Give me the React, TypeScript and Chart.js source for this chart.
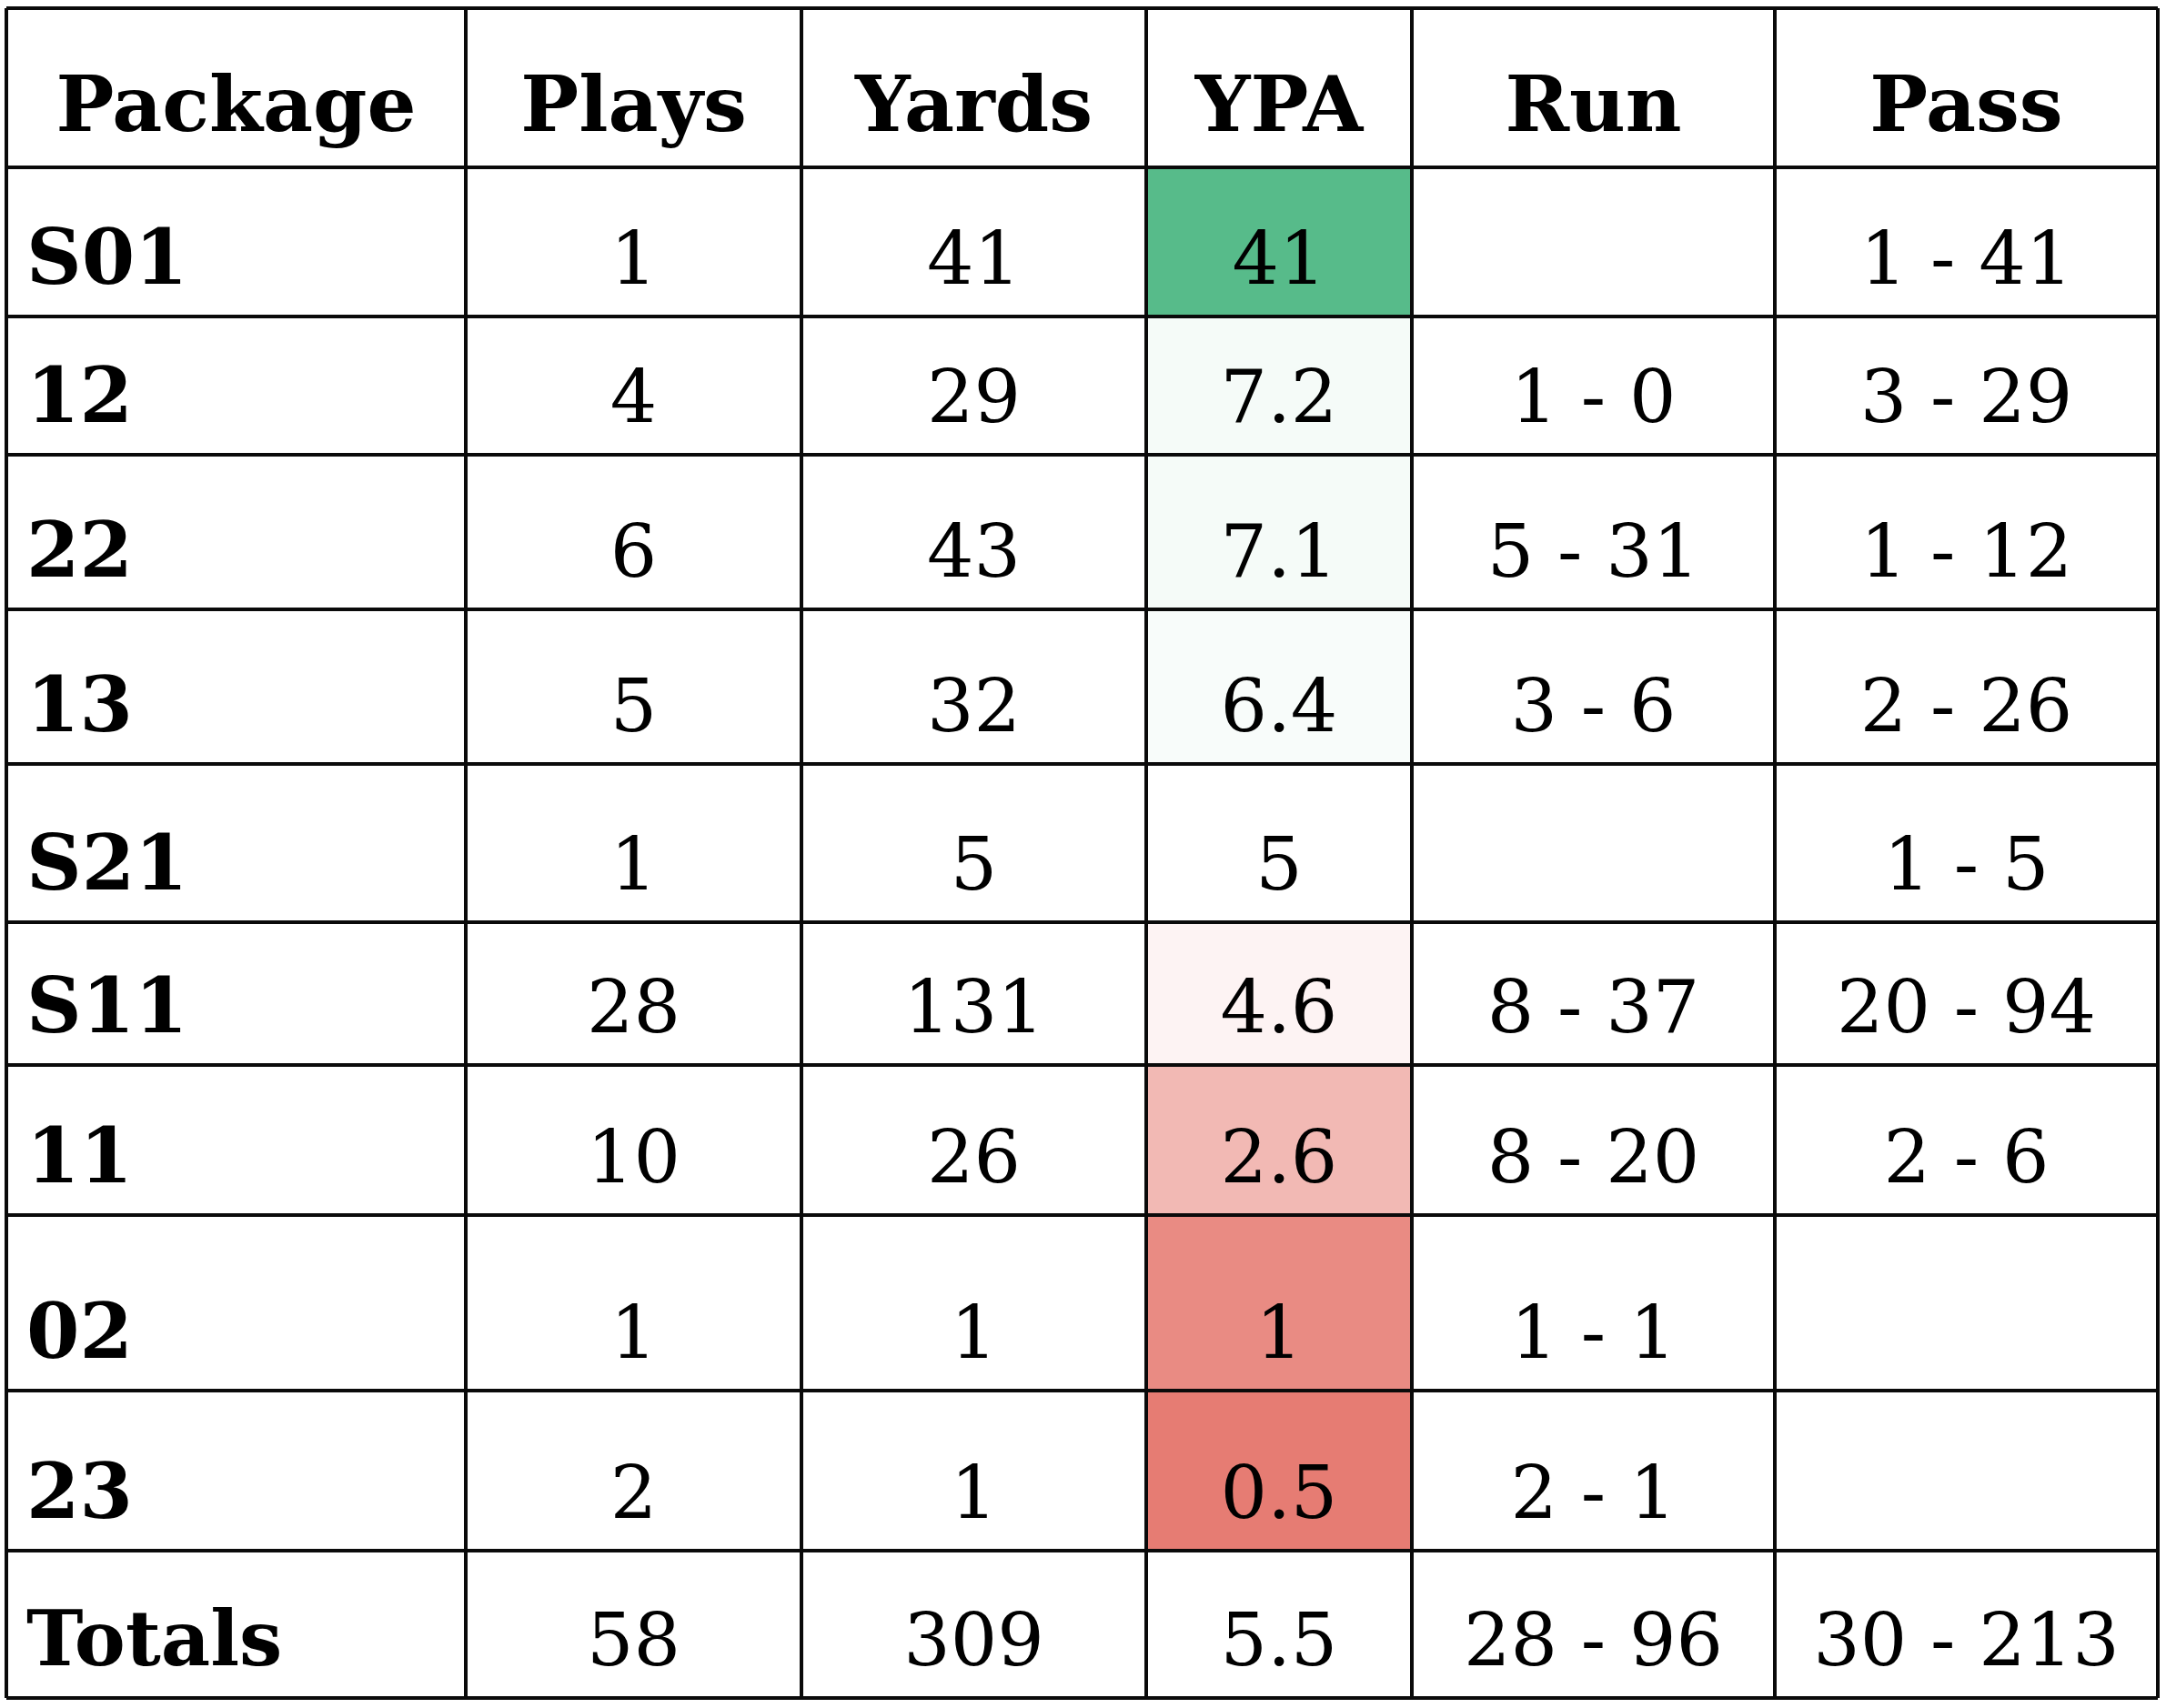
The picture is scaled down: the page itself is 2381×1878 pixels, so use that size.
import React, { useEffect, useRef } from "react";
import { Chart, registerables } from "chart.js";

Chart.register(...registerables);

// ---------- data ----------
const HEADERS = ["Package", "Plays", "Yards", "YPA", "Run", "Pass"];
const PACKAGES = ["S01", "12", "22", "13", "S21", "S11", "11", "02", "23"];
const PLAYS = [1, 4, 6, 5, 1, 28, 10, 1, 2];
const YARDS = [41, 29, 43, 32, 5, 131, 26, 1, 1];
const YPA = [41, 7.2, 7.1, 6.4, 5, 4.6, 2.6, 1, 0.5];
const RUN_ATT: (number | null)[] = [null, 1, 5, 3, null, 8, 8, 1, 2];
const RUN_YDS: (number | null)[] = [null, 0, 31, 6, null, 37, 20, 1, 1];
const PASS_ATT: (number | null)[] = [1, 3, 1, 2, 1, 20, 2, null, null];
const PASS_YDS: (number | null)[] = [41, 29, 12, 26, 5, 94, 6, null, null];
const TOTAL_LABEL = "Totals";
const TOTAL_PLAYS = 58;
const TOTAL_YARDS = 309;
const TOTAL_YPA = 5.5;
const TOTAL_RUN = [28, 96];
const TOTAL_PASS = [30, 213];

// ---------- layout & style ----------
const COL_WIDTHS = [505, 369, 379, 292, 399, 421];
const ROW_HEIGHTS = [175, 164, 152, 170, 170, 174, 157, 165, 193, 176, 162];
const LOW_COLOR = [230, 124, 115];
const MID_COLOR = [255, 255, 255];
const HIGH_COLOR = [87, 187, 138];
const FONT_FAMILY = '"DejaVu Serif", "Liberation Serif", serif';
const HEADER_SIZE = 85;
const LABEL_SIZE = 84;
const REG_SIZE = 81;
const LINE_COLOR = "#0a0a0a";

const cumulative = (arr: number[]) => {
  const out = [0];
  arr.forEach((v) => out.push(out[out.length - 1] + v));
  return out;
};
const X_EDGES = cumulative(COL_WIDTHS);
const Y_EDGES = cumulative(ROW_HEIGHTS);

const pair = (a: number | null, b: number | null) =>
  a === null || b === null ? "" : `${a} - ${b}`;

function median(values: number[]) {
  const s = [...values].sort((a, b) => a - b);
  const m = Math.floor(s.length / 2);
  return s.length % 2 ? s[m] : (s[m - 1] + s[m]) / 2;
}

function mix(c1: number[], c2: number[], t: number) {
  const c = c1.map((v, i) => Math.round(v + (c2[i] - v) * t));
  return `rgb(${c[0]},${c[1]},${c[2]})`;
}

function ypaColor(v: number) {
  const min = Math.min(...YPA);
  const max = Math.max(...YPA);
  const mid = median(YPA);
  if (v >= mid) return mix(MID_COLOR, HIGH_COLOR, (v - mid) / (max - mid));
  return mix(MID_COLOR, LOW_COLOR, (mid - v) / (mid - min));
}

type Row = { cells: string[]; header: boolean; fill: (string | null)[] };

function buildRows(): Row[] {
  const rows: Row[] = [];
  rows.push({ cells: HEADERS, header: true, fill: HEADERS.map(() => null) });
  PACKAGES.forEach((p, i) => {
    rows.push({
      cells: [
        p,
        String(PLAYS[i]),
        String(YARDS[i]),
        String(YPA[i]),
        pair(RUN_ATT[i], RUN_YDS[i]),
        pair(PASS_ATT[i], PASS_YDS[i]),
      ],
      header: false,
      fill: [null, null, null, ypaColor(YPA[i]), null, null],
    });
  });
  rows.push({
    cells: [
      TOTAL_LABEL,
      String(TOTAL_PLAYS),
      String(TOTAL_YARDS),
      String(TOTAL_YPA),
      pair(TOTAL_RUN[0], TOTAL_RUN[1]),
      pair(TOTAL_PASS[0], TOTAL_PASS[1]),
    ],
    header: false,
    fill: [null, null, null, null, null, null],
  });
  return rows;
}

const tablePlugin = {
  id: "tablePlugin",
  beforeDraw(chart: any) {
    const { ctx, scales } = chart;
    const xs = scales.x;
    const ys = scales.y;
    ctx.save();
    ctx.fillStyle = "#ffffff";
    ctx.fillRect(0, 0, chart.width, chart.height);
    const rows = buildRows();
    rows.forEach((row, r) => {
      row.fill.forEach((f, c) => {
        if (!f) return;
        const x0 = xs.getPixelForValue(X_EDGES[c]);
        const x1 = xs.getPixelForValue(X_EDGES[c + 1]);
        const y0 = ys.getPixelForValue(Y_EDGES[r]);
        const y1 = ys.getPixelForValue(Y_EDGES[r + 1]);
        ctx.fillStyle = f;
        ctx.fillRect(x0, y0, x1 - x0, y1 - y0);
      });
    });
    ctx.restore();
  },
  afterDraw(chart: any) {
    const { ctx, scales } = chart;
    const xs = scales.x;
    const ys = scales.y;
    const rows = buildRows();
    ctx.save();
    ctx.fillStyle = "#000000";
    ctx.textBaseline = "alphabetic";
    rows.forEach((row, r) => {
      const yBottom = ys.getPixelForValue(Y_EDGES[r + 1]);
      const baseline = yBottom - (row.header ? 40 : 36);
      row.cells.forEach((text, c) => {
        if (!text) return;
        const x0 = xs.getPixelForValue(X_EDGES[c]);
        const x1 = xs.getPixelForValue(X_EDGES[c + 1]);
        if (row.header) {
          ctx.font = `bold ${HEADER_SIZE}px ${FONT_FAMILY}`;
        } else if (c === 0) {
          ctx.font = `bold ${LABEL_SIZE}px ${FONT_FAMILY}`;
        } else {
          ctx.font = `${REG_SIZE}px ${FONT_FAMILY}`;
        }
        if (c === 0 && !row.header) {
          ctx.textAlign = "left";
          ctx.fillText(text, x0 + 22, baseline);
        } else {
          ctx.textAlign = "center";
          ctx.fillText(text, (x0 + x1) / 2, baseline);
        }
      });
    });
    ctx.restore();
  },
};

export default function App() {
  const canvasRef = useRef<HTMLCanvasElement | null>(null);

  useEffect(() => {
    document.body.style.margin = "0";
    const canvas = canvasRef.current;
    if (!canvas) return;
    const chart = new Chart(canvas, {
      type: "scatter",
      data: { datasets: [{ data: [], pointRadius: 0 }] },
      options: {
        animation: false,
        responsive: false,
        devicePixelRatio: 1,
        layout: { padding: { left: 7, top: 9, right: 9, bottom: 11 } },
        plugins: { legend: { display: false }, tooltip: { enabled: false } },
        scales: {
          x: {
            type: "linear",
            min: 0,
            max: X_EDGES[X_EDGES.length - 1],
            afterBuildTicks: (scale: any) => {
              scale.ticks = X_EDGES.map((v) => ({ value: v }));
            },
            ticks: { display: false },
            grid: { color: LINE_COLOR, lineWidth: 4, drawTicks: false },
            border: { display: false },
          },
          y: {
            type: "linear",
            reverse: true,
            min: 0,
            max: Y_EDGES[Y_EDGES.length - 1],
            afterBuildTicks: (scale: any) => {
              scale.ticks = Y_EDGES.map((v) => ({ value: v }));
            },
            ticks: { display: false },
            grid: { color: LINE_COLOR, lineWidth: 4, drawTicks: false },
            border: { display: false },
          },
        },
      },
      plugins: [tablePlugin],
    });
    return () => chart.destroy();
  }, []);

  return (
    <canvas
      ref={canvasRef}
      width={2381}
      height={1878}
      style={{ display: "block", width: "2381px", height: "1878px" }}
    />
  );
}
